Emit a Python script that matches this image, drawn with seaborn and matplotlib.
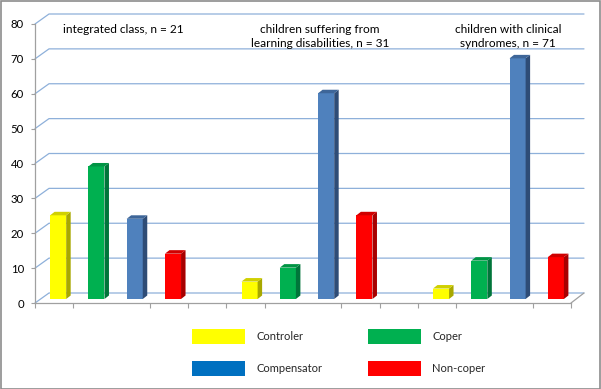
import matplotlib
matplotlib.use("Agg")
import matplotlib.pyplot as plt
import seaborn as sns
import pandas as pd
import numpy as np
from matplotlib.transforms import ScaledTranslation, IdentityTransform
from matplotlib.patches import Polygon, Rectangle, Patch
from matplotlib.lines import Line2D

# ---------------- data ----------------
groups = ["integrated class, n = 21",
          "children suffering from\nlearning disabilities, n = 31",
          "children with clinical\nsyndromes, n = 71"]
series = ["Controler", "Coper", "Compensator", "Non-coper"]
controler = [24, 5, 3]
coper = [38, 9, 11]
compensator = [23, 59, 69]
non_coper = [13, 24, 12]
yticks = [0, 10, 20, 30, 40, 50, 60, 70, 80]

# ---------------- style ----------------
bar_colors = {"Controler": "#FFFF00", "Coper": "#00B050",
              "Compensator": "#4F81BD", "Non-coper": "#FF0000"}
side_colors = {"Controler": "#A8A800", "Coper": "#00753A",
               "Compensator": "#2E4C76", "Non-coper": "#A80000"}
top_colors = {"Controler": "#D0D000", "Coper": "#009444",
              "Compensator": "#3E6699", "Non-coper": "#D00000"}
legend_colors = {"Controler": "#FFFF00", "Coper": "#00B050",
                 "Compensator": "#0070C0", "Non-coper": "#FF0000"}
grid_color = "#8EB0DA"
axis_color = "#A0A0A0"
text_offsets = [0.06, 0.09, 0.07]

sns.set_theme(style="white")
plt.rcParams['font.family'] = ['Lato', 'DejaVu Sans']

W, H = 601, 389
DPI = 100
fig = plt.figure(figsize=(W / DPI, H / DPI), dpi=DPI)
fig.patch.set_facecolor("white")

L, R, B, T = 35, 571, 303, 24  # pixel positions (from top for B, T)
ax = fig.add_axes([L / W, (H - B) / H, (R - L) / W, (B - T) / H])
ax.set_facecolor("none")

df = pd.DataFrame({
    "group": np.repeat(groups, len(series)),
    "series": series * len(groups),
    "value": [v for g in zip(controler, coper, compensator, non_coper) for v in g],
})

sns.barplot(data=df, x="group", y="value", hue="series", hue_order=series,
            order=groups, palette=bar_colors, width=0.8, gap=0.58,
            saturation=1, linewidth=0, edgecolor="none", legend=False, ax=ax)

ax.set_xlim(-0.4, 2.4)
ax.set_ylim(0, 80)
ax.set_xlabel("")
ax.set_ylabel("")

# spines
for s in ["top", "right"]:
    ax.spines[s].set_visible(False)
for s in ["left", "bottom"]:
    ax.spines[s].set_color(axis_color)
    ax.spines[s].set_linewidth(0.9)

ax.set_yticks(yticks)
ax.set_yticklabels([str(v) for v in yticks])
ax.tick_params(axis="y", which="major", left=True, length=3, width=0.8,
               color=axis_color, pad=5, labelsize=8.2, labelcolor="#000000")
ax.set_xticks(range(len(groups)))
ax.set_xticklabels([])
ax.tick_params(axis="x", which="major", length=0)
ax.set_xticks(np.arange(-0.4, 2.41, 0.2), minor=True)
ax.tick_params(axis="x", which="minor", bottom=True, length=3.5, width=0.8,
               color=axis_color, direction="out")

fig.canvas.draw()

# back-wall gridlines and floor diagonals (pixel space)
gx0, gy_off, gx_back, gx_end = L, 10, L + 14, 584
for v in yticks:
    yf = ax.transData.transform((0, v))[1]
    ax.add_line(Line2D([gx0, gx_back, gx_end], [yf, yf + gy_off, yf + gy_off],
                       transform=IdentityTransform(), color=grid_color,
                       lw=0.9, zorder=0.5, clip_on=False))
y0 = ax.transData.transform((0, 0))[1]
xr = ax.transData.transform((2.4, 0))[0]
ax.add_line(Line2D([xr, gx_end], [y0, y0 + gy_off], transform=IdentityTransform(),
                   color=axis_color, lw=0.9, zorder=0.6, clip_on=False))

# shift bars onto their depth plane and add 3D faces
dx_shift, dy_shift = 4, 4
d_side, d_top = 4.5, 3.5
bars = [p for p in ax.patches if isinstance(p, Rectangle) and p.get_height() > 0]
for p in bars:
    fc = p.get_facecolor()
    name = None
    for k, c in bar_colors.items():
        if np.allclose(matplotlib.colors.to_rgba(c), fc, atol=0.01):
            name = k
    shift = ScaledTranslation(dx_shift / DPI, dy_shift / DPI, fig.dpi_scale_trans)
    p.set_transform(ax.transData + shift)
    (x0, yb) = ax.transData.transform((p.get_x(), p.get_y()))
    (x1, yt) = ax.transData.transform((p.get_x() + p.get_width(), p.get_y() + p.get_height()))
    x0 += dx_shift; x1 += dx_shift; yb += dy_shift; yt += dy_shift
    side = Polygon([(x1, yb), (x1 + d_side, yb + d_top), (x1 + d_side, yt + d_top), (x1, yt)],
                   closed=True, facecolor=side_colors[name], edgecolor="none",
                   transform=IdentityTransform(), zorder=1.1, clip_on=False)
    top = Polygon([(x0, yt), (x0 + d_side, yt + d_top), (x1 + d_side, yt + d_top), (x1, yt)],
                  closed=True, facecolor=top_colors[name], edgecolor="none",
                  transform=IdentityTransform(), zorder=1.1, clip_on=False)
    ax.add_patch(side)
    ax.add_patch(top)

# group annotations
for i, g in enumerate(groups):
    ax.text(i + text_offsets[i], 80.1, g, ha="center", va="top", fontsize=8.6,
            color="#000000", linespacing=1.33, clip_on=False)

# legend
order = ["Controler", "Compensator", "Coper", "Non-coper"]
handles = [Patch(facecolor=legend_colors[s], edgecolor="none", label=s) for s in order]
fig.legend(handles=handles, labels=order, ncol=2, frameon=False,
           loc="upper left", bbox_to_anchor=(192 / W, 1 - 329 / H),
           fontsize=8.0, handlelength=4.75, handleheight=1.65, handletextpad=1.05,
           columnspacing=4.1, labelspacing=1.6, borderpad=0, borderaxespad=0)

# outer frame
fig.add_artist(Rectangle((0.5 / W, 0.5 / H), 1 - 1.5 / W, 1 - 1.5 / H,
                         transform=fig.transFigure, fill=False,
                         edgecolor="#8C8C8C", lw=1.2))

fig.savefig("out.png", dpi=DPI)
